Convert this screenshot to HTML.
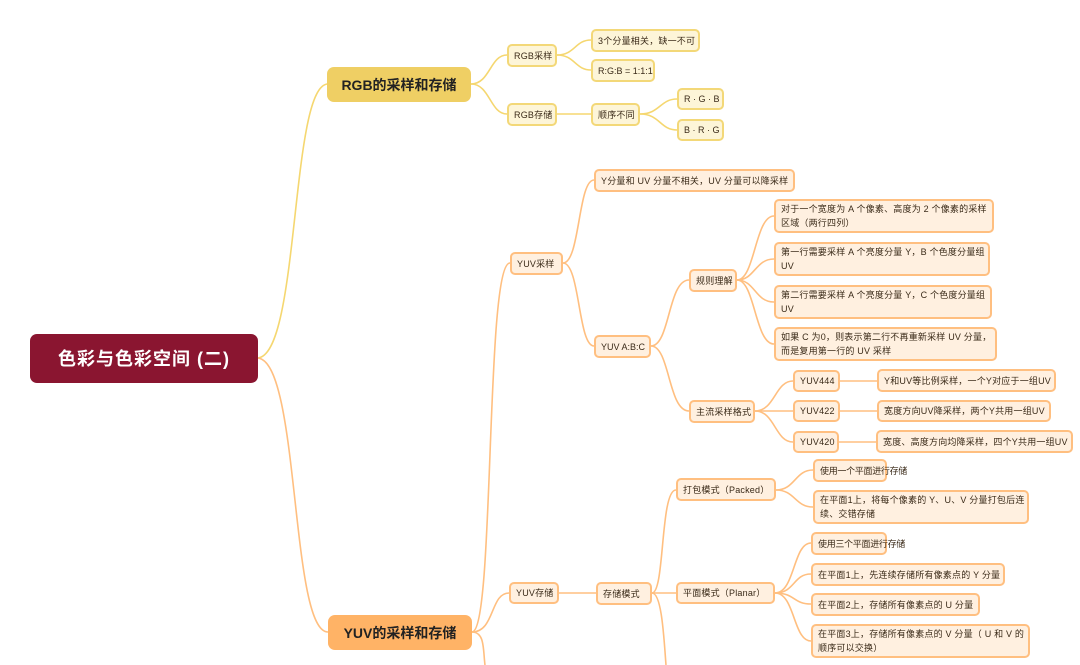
<!DOCTYPE html>
<html><head><meta charset="utf-8"><style>
body{margin:0;width:1080px;height:665px;overflow:hidden;background:#fff;position:relative;font-family:"Liberation Sans","Noto Sans CJK SC",sans-serif;}
.b{position:absolute;box-sizing:border-box;border-radius:5px;font-size:9px;letter-spacing:0.2px;color:#3a2a18;padding:0 5px;display:flex;align-items:center;line-height:14px;white-space:nowrap}
.y{background:#fdf5d8;border:2px solid #f3d878}
.o{background:#fff0e0;border:2px solid #ffbf80}
svg{position:absolute;left:0;top:0}
</style></head><body>
<svg width="1080" height="665" fill="none" stroke-width="1.6">
<g stroke="#f5d770">
<path d="M257 358 C300 358,290 84,328 84"/>
<path d="M471 84 C490 84,490 55,507 55"/>
<path d="M471 84 C490 84,490 114,507 114"/>
<path d="M557 55 C575 55,575 40,591 40"/>
<path d="M557 55 C575 55,575 70,591 70"/>
<path d="M557 114 L591 114"/>
<path d="M640 114 C660 114,660 99,677 99"/>
<path d="M640 114 C660 114,660 130,677 130"/>
</g>
<g stroke="#ffbf80">
<path d="M257 358 C300 358,290 632,328 632"/>
<path d="M472 632 C495 632,485 263,510 263"/>
<path d="M472 632 C495 632,490 593,509 593"/>
<path d="M472 632 C485 632,483 650,485 665"/>
<path d="M563 263 C580 263,578 180,594 180"/>
<path d="M563 263 C580 263,578 346,594 346"/>
<path d="M651 346 C670 346,668 280,689 280"/>
<path d="M651 346 C670 346,668 411,689 411"/>
<path d="M737 280 C755 280,755 216,774 216"/>
<path d="M737 280 C755 280,755 259,774 259"/>
<path d="M737 280 C755 280,755 302,774 302"/>
<path d="M737 280 C755 280,755 344,774 344"/>
<path d="M755 411 C775 411,775 381,793 381"/>
<path d="M755 411 L793 411"/>
<path d="M755 411 C775 411,775 442,793 442"/>
<path d="M840 381 L877 381"/><path d="M840 411 L877 411"/><path d="M839 442 L876 442"/>
<path d="M559 593 L596 593"/>
<path d="M652 593 C665 593,660 490,676 490"/>
<path d="M652 593 L676 593"/>
<path d="M652 593 C662 593,664 640,666 665"/>
<path d="M776 490 C795 490,795 470,813 470"/>
<path d="M776 490 C795 490,795 507,813 507"/>
<path d="M775 593 C795 593,793 543,811 543"/>
<path d="M775 593 C795 593,793 574,811 574"/>
<path d="M775 593 C795 593,793 604,811 604"/>
<path d="M775 593 C795 593,793 641,811 641"/>
</g>
</svg>
<div class="b" style="left:30px;top:334px;width:228px;height:49px;background:#8a1530;border-radius:7px;color:#fff;font-size:18px;font-weight:bold;justify-content:center;letter-spacing:1px">色彩与色彩空间 (二)</div>
<div class="b" style="left:327px;top:67px;width:144px;height:35px;background:#efcf64;border-radius:7px;color:#222;font-size:14px;font-weight:bold;justify-content:center;letter-spacing:0">RGB的采样和存储</div>
<div class="b" style="left:328px;top:615px;width:144px;height:35px;background:#ffb366;border-radius:7px;color:#222;font-size:14px;font-weight:bold;justify-content:center;letter-spacing:0">YUV的采样和存储</div>
<div class="b y" style="left:507px;top:44px;width:50px;height:23px">RGB采样</div>
<div class="b y" style="left:507px;top:103px;width:50px;height:23px">RGB存储</div>
<div class="b y" style="left:591px;top:29px;width:109px;height:23px">3个分量相关，缺一不可</div>
<div class="b y" style="left:591px;top:59px;width:64px;height:23px;letter-spacing:0">R:G:B = 1:1:1</div>
<div class="b y" style="left:591px;top:103px;width:49px;height:23px">顺序不同</div>
<div class="b y" style="left:677px;top:88px;width:47px;height:22px;letter-spacing:0">R · G · B</div>
<div class="b y" style="left:677px;top:119px;width:47px;height:22px;letter-spacing:0">B · R · G</div>
<div class="b o" style="left:510px;top:252px;width:53px;height:23px">YUV采样</div>
<div class="b o" style="left:594px;top:169px;width:201px;height:23px">Y分量和 UV 分量不相关，UV 分量可以降采样</div>
<div class="b o" style="left:594px;top:335px;width:57px;height:23px;letter-spacing:0">YUV A:B:C</div>
<div class="b o" style="left:689px;top:269px;width:48px;height:23px">规则理解</div>
<div class="b o" style="left:689px;top:400px;width:66px;height:23px">主流采样格式</div>
<div class="b o" style="left:774px;top:199px;width:220px;height:34px">对于一个宽度为 A 个像素、高度为 2 个像素的采样<br>区域（两行四列）</div>
<div class="b o" style="left:774px;top:242px;width:216px;height:34px">第一行需要采样 A 个亮度分量 Y，B 个色度分量组<br>UV</div>
<div class="b o" style="left:774px;top:285px;width:218px;height:34px">第二行需要采样 A 个亮度分量 Y，C 个色度分量组<br>UV</div>
<div class="b o" style="left:774px;top:327px;width:223px;height:34px">如果 C 为0，则表示第二行不再重新采样 UV 分量，<br>而是复用第一行的 UV 采样</div>
<div class="b o" style="left:793px;top:370px;width:47px;height:22px">YUV444</div>
<div class="b o" style="left:793px;top:400px;width:47px;height:22px">YUV422</div>
<div class="b o" style="left:793px;top:431px;width:46px;height:22px">YUV420</div>
<div class="b o" style="left:877px;top:369px;width:179px;height:23px">Y和UV等比例采样，一个Y对应于一组UV</div>
<div class="b o" style="left:877px;top:400px;width:174px;height:22px">宽度方向UV降采样，两个Y共用一组UV</div>
<div class="b o" style="left:876px;top:430px;width:197px;height:23px">宽度、高度方向均降采样，四个Y共用一组UV</div>
<div class="b o" style="left:509px;top:582px;width:50px;height:22px">YUV存储</div>
<div class="b o" style="left:596px;top:582px;width:56px;height:23px">存储模式</div>
<div class="b o" style="left:676px;top:478px;width:100px;height:23px">打包模式（Packed）</div>
<div class="b o" style="left:676px;top:582px;width:99px;height:22px">平面模式（Planar）</div>
<div class="b o" style="left:813px;top:459px;width:74px;height:23px;letter-spacing:-0.3px">使用一个平面进行存储</div>
<div class="b o" style="left:813px;top:490px;width:216px;height:34px">在平面1上，将每个像素的 Y、U、V 分量打包后连<br>续、交错存储</div>
<div class="b o" style="left:811px;top:532px;width:76px;height:23px;letter-spacing:-0.3px">使用三个平面进行存储</div>
<div class="b o" style="left:811px;top:563px;width:194px;height:23px">在平面1上，先连续存储所有像素点的 Y 分量</div>
<div class="b o" style="left:811px;top:593px;width:169px;height:23px">在平面2上，存储所有像素点的 U 分量</div>
<div class="b o" style="left:811px;top:624px;width:219px;height:34px">在平面3上，存储所有像素点的 V 分量（ U 和 V 的<br>顺序可以交换）</div>
</body></html>
